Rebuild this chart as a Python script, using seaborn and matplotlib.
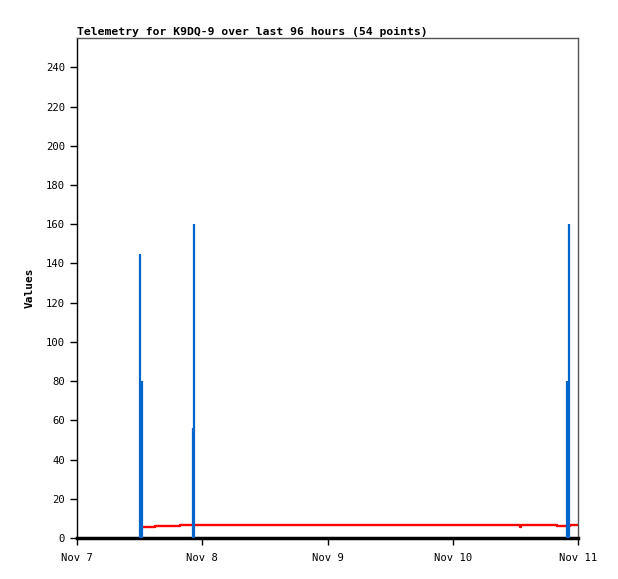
import pandas as pd
import matplotlib.pyplot as plt
import matplotlib.dates as mdates
import seaborn as sns

# impulse series (blue)
bar_times = ['2023-11-07 12:04', '2023-11-07 12:27', '2023-11-07 22:08',
             '2023-11-07 22:26', '2023-11-10 21:55', '2023-11-10 22:12']
bar_values = [145, 80, 56, 160, 80, 160]

# line series (red)
line_times = ['2023-11-07 12:29', '2023-11-07 14:57', '2023-11-07 19:44',
              '2023-11-10 12:55', '2023-11-10 13:06', '2023-11-10 15:14',
              '2023-11-10 19:55', '2023-11-10 22:26', '2023-11-11 00:00']
line_values = [5.8, 6.3, 6.8, 5.6, 6.8, 6.4, 6.0, 6.8, 6.8]

title = 'Telemetry for K9DQ-9 over last 96 hours (54 points)'

sns.set_style('white')
plt.rcParams['font.family'] = ['DejaVu Sans Mono']
plt.rcParams['text.color'] = 'black'
plt.rcParams['axes.labelcolor'] = 'black'
plt.rcParams['xtick.color'] = 'black'
plt.rcParams['ytick.color'] = 'black'

fig = plt.figure(figsize=(6.18, 5.79), dpi=100)
ax = fig.add_axes([77 / 618, 41 / 579, 501 / 618, 500 / 579])

ax.vlines(pd.to_datetime(bar_times), 0, bar_values, color='#0066cc', lw=1.6, zorder=3)
sns.lineplot(x=pd.to_datetime(line_times), y=line_values, ax=ax, color='#ff0000',
             lw=1.7, drawstyle='steps-post', zorder=2)

ax.set_xlim(pd.Timestamp('2023-11-07'), pd.Timestamp('2023-11-11'))
ax.set_ylim(0, 255)
ax.set_yticks(range(0, 241, 20))
ax.xaxis.set_major_locator(mdates.DayLocator())
ax.xaxis.set_major_formatter(mdates.DateFormatter('%b %-d'))

ax.tick_params(axis='both', direction='out', length=5, width=1, color='black',
               labelsize=7.6, left=True, bottom=True)
ax.tick_params(axis='x', pad=6)

for side in ['top', 'right']:
    ax.spines[side].set_color('#555555')
    ax.spines[side].set_linewidth(1)
ax.spines['left'].set_color('black')
ax.spines['left'].set_linewidth(1)
ax.spines['bottom'].set_color('black')
ax.spines['bottom'].set_linewidth(2.5)

ax.set_ylabel('Values', fontsize=8, fontweight='bold', labelpad=8)
ax.set_xlabel('')
ax.set_title(title, loc='left', fontsize=8.2, fontweight='bold', pad=2)

fig.savefig('out.png', dpi=100)
